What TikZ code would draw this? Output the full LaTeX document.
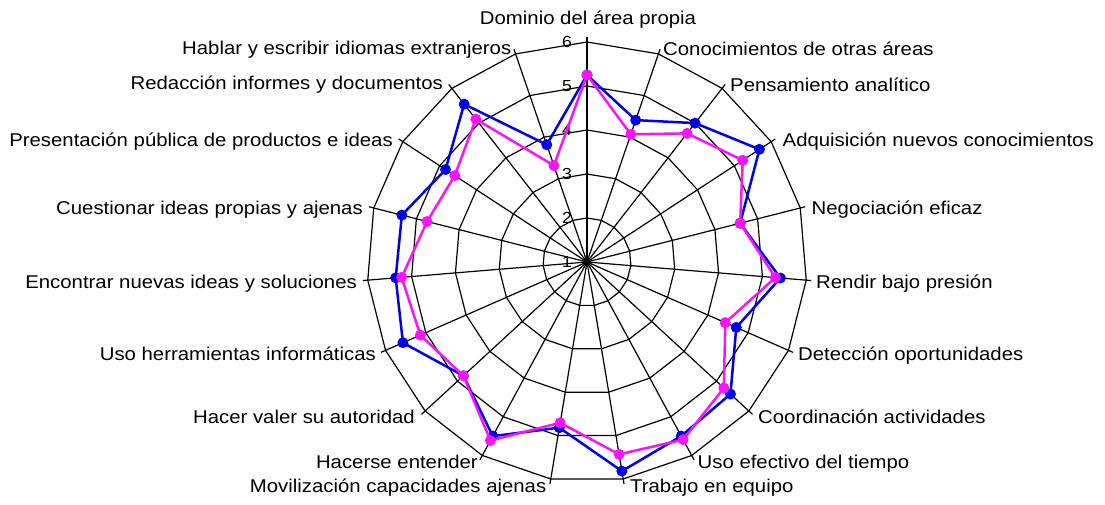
\documentclass[tikz,border=0pt]{standalone}
\usepackage{fontspec}
\setmainfont[FakeStretch=1.1]{Liberation Sans}
\usepackage{tikz}
\definecolor{serieA}{RGB}{0,0,230}
\definecolor{serieB}{RGB}{250,20,250}

\begin{document}
\begin{tikzpicture}[line join=bevel,
    grid/.style={draw=black,line width=1.2bp},
    lbl/.style={inner sep=0pt,font=\fontsize{18.5bp}{22bp}\selectfont},
    tick/.style={inner sep=0pt,font=\fontsize{16bp}{18bp}\selectfont},
    serA/.style={draw=serieA,line width=2.5bp},
    serB/.style={draw=serieB,line width=2.5bp}]
		\useasboundingbox[fill=white] (0bp,0bp) rectangle (1105bp,505bp);
		\coordinate (c) at (587bp,243bp);
		% grid
		\begin{scope}[shift={(c)}]
		  \foreach \k in {0,...,18}
		    \draw[grid] (0,0) -- ({90-\k*360/19}:225bp);
		  \foreach \r in {44bp,88bp,132bp,176bp,220bp}
		    \draw[grid] (90:\r) \foreach \k in {1,...,18} { -- ({90-\k*360/19}:\r) } -- cycle;
		  % data points
		  \foreach \r [count=\i from 0] in {187bp,150bp,176bp,206bp,158bp,194bp,163bp,195bp,198bp,212bp,168bp,198bp,168bp,201bp,192bp,191bp,169bp,200bp,124bp}
		    \coordinate (a\i) at ({90-\i*360/19}:\r);
		  \foreach \r [count=\i from 0] in {187bp,135bp,163bp,186bp,158bp,189bp,151bp,186bp,202bp,195bp,163bp,203bp,168bp,182bp,186bp,165bp,158bp,181bp,102bp}
		    \coordinate (b\i) at ({90-\i*360/19}:\r);
		\end{scope}
		% scale
		  \node (t1) at (567bp,243bp) [tick] {1};
		  \node (t2) at (567bp,287bp) [tick] {2};
		  \node (t3) at (567bp,331bp) [tick] {3};
		  \node (t4) at (567bp,375bp) [tick] {4};
		  \node (t5) at (567bp,419bp) [tick] {5};
		  \node (t6) at (567bp,463bp) [tick] {6};
		% series
		  \draw [serA] (a0) -- (a1) -- (a2) -- (a3) -- (a4) -- (a5) -- (a6) -- (a7) -- (a8) -- (a9) -- (a10) -- (a11) -- (a12) -- (a13) -- (a14) -- (a15) -- (a16) -- (a17) -- (a18) -- cycle;
		  \foreach \i in {0,...,18} \fill[serieA] (a\i) circle (5.5bp);
		  \draw [serB] (b0) -- (b1) -- (b2) -- (b3) -- (b4) -- (b5) -- (b6) -- (b7) -- (b8) -- (b9) -- (b10) -- (b11) -- (b12) -- (b13) -- (b14) -- (b15) -- (b16) -- (b17) -- (b18) -- cycle;
		  \foreach \i in {0,...,18} \fill[serieB] (b\i) circle (5.5bp);
		% labels
		  \node (dom) at (588bp,480bp) [lbl,anchor=base] {Dominio del área propia};
		  \node (con) at (663bp,449.3bp) [lbl,anchor=base west] {Conocimientos de otras áreas};
		  \node (pen) at (730bp,413.3bp) [lbl,anchor=base west] {Pensamiento analítico};
		  \node (adq) at (782.5bp,358.3bp) [lbl,anchor=base west] {Adquisición nuevos conocimientos};
		  \node (neg) at (811.5bp,290.7bp) [lbl,anchor=base west] {Negociación eficaz};
		  \node (ren) at (816bp,216.7bp) [lbl,anchor=base west] {Rendir bajo presión};
		  \node (det) at (798bp,144.3bp) [lbl,anchor=base west] {Detección oportunidades};
		  \node (coo) at (758bp,81bp) [lbl,anchor=base west] {Coordinación actividades};
		  \node (uso) at (697.5bp,36.7bp) [lbl,anchor=base west] {Uso efectivo del tiempo};
		  \node (tra) at (630bp,13bp) [lbl,anchor=base west] {Trabajo en equipo};
		  \node (mov) at (546.5bp,13bp) [lbl,anchor=base east] {Movilización capacidades ajenas};
		  \node (hac) at (478bp,36.7bp) [lbl,anchor=base east] {Hacerse entender};
		  \node (aut) at (415bp,81.7bp) [lbl,anchor=base east] {Hacer valer su autoridad};
		  \node (her) at (376bp,144.3bp) [lbl,anchor=base east] {Uso herramientas informáticas};
		  \node (enc) at (357bp,216bp) [lbl,anchor=base east] {Encontrar nuevas ideas y soluciones};
		  \node (cue) at (363bp,290bp) [lbl,anchor=base east] {Cuestionar ideas propias y ajenas};
		  \node (pre) at (393bp,358.3bp) [lbl,anchor=base east] {Presentación pública de productos e ideas};
		  \node (red) at (443bp,415bp) [lbl,anchor=base east] {Redacción informes y documentos};
		  \node (hab) at (511.5bp,450bp) [lbl,anchor=base east] {Hablar y escribir idiomas extranjeros};
\end{tikzpicture}
\end{document}
